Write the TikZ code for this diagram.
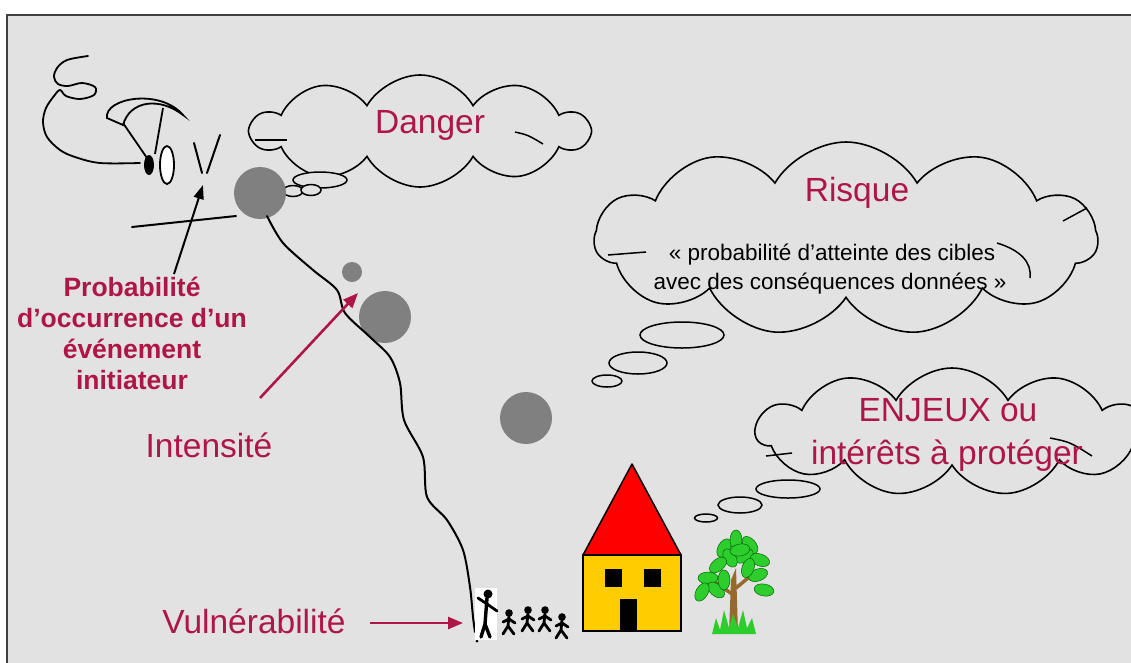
\documentclass[tikz,border=0pt]{standalone}
\usepackage{fontspec}
\setmainfont{Liberation Sans}
\usetikzlibrary{shapes.symbols,arrows.meta}

\definecolor{paper}{RGB}{226,226,226}
\definecolor{risk}{RGB}{175,22,72}
\definecolor{ball}{RGB}{128,128,128}
\definecolor{roof}{RGB}{255,0,0}
\definecolor{wall}{RGB}{255,204,0}
\definecolor{leaf}{RGB}{45,205,45}
\definecolor{trunk}{RGB}{150,105,45}

\tikzset{
	thought/.style={cloud,draw,line width=1.6pt,fill=paper,cloud puffs=#1,cloud puff arc=120,cloud ignores aspect,inner sep=0pt},
	bubble/.style={draw,line width=1.5pt,fill=paper},
	bigtext/.style={text=risk,font=\fontsize{33.5}{38}\selectfont},
	quotetext/.style={font=\fontsize{22.5}{26}\selectfont},
	probtext/.style={text=risk,align=center,font=\fontsize{26.5}{31}\selectfont\bfseries},
	redarrow/.style={draw=risk,line width=2.6pt,-{Triangle[length=15pt,width=12pt]}},
	blackline/.style={line width=2pt,line join=round,line cap=round},
	kid/.style={line width=2.8pt,line cap=round},
}

\begin{document}
\begin{tikzpicture}[x=1pt,y=-1pt]
	\useasboundingbox (0,0) rectangle (1131,662);
	\fill[white] (0,0) rectangle (1131,662);
	\filldraw[fill=paper,draw=black!75,line width=1.5pt] (7,15) rectangle (1145,675);

	% the three thought clouds
	\node[thought=10,minimum width=336pt,minimum height=112pt] (dangercloud) at (420,131) {};
	\node[thought=11,minimum width=503pt,minimum height=194pt] (risquecloud) at (846,239) {};
	\node[thought=11,minimum width=392pt,minimum height=128pt] (enjeuxcloud) at (952,432) {};

	% little inner strokes
	\draw[line width=1.5pt] (255,140) -- (287,140);
	\draw[line width=1.5pt] (515,132) .. controls (528,135) .. (543,144);
	\draw[line width=1.5pt] (608,255) -- (646,252);
	\draw[line width=1.5pt] (997,243) .. controls (1020,250) and (1032,262) .. (1030,278);
	\draw[line width=1.5pt] (1063,221) -- (1087,208);
	\draw[line width=1.5pt] (766,456) -- (792,453);
	\draw[line width=1.5pt] (1050,438) .. controls (1070,442) .. (1092,456);

	% bubbles
	\draw[bubble] (320,180) ellipse (27pt and 8pt);
	\draw[bubble] (293,191) ellipse (10pt and 5.5pt);
	\draw[bubble] (311,190) ellipse (10pt and 5.5pt);
	\draw[bubble] (682,335) ellipse (42pt and 13pt);
	\draw[bubble] (638,363) ellipse (29pt and 11pt);
	\draw[bubble] (607,381) ellipse (15pt and 6pt);
	\draw[bubble] (788,489) ellipse (32pt and 9pt);
	\draw[bubble] (740,505) ellipse (22pt and 8pt);
	\draw[bubble] (706,518) ellipse (11.5pt and 4pt);

	% texts in the clouds
	\node[bigtext] (danger) at (430,125) {Danger};
	\node[bigtext] (risque) at (857,193) {Risque};
	\node[quotetext] (quote1) at (832,255) {« probabilité d’atteinte des cibles};
	\node[quotetext] (quote2) at (830,284) {avec des conséquences données »};
	\node[bigtext] (enjeux) at (948,410) {ENJEUX ou};
	\node[bigtext] (proteger) at (947,456) {intérêts à protéger};

	% falling blocks
	\fill[ball] (260,193) circle (26pt);
	\fill[ball] (352,272) circle (10pt);
	\fill[ball] (385,317) circle (26pt);
	\fill[ball] (526,418) circle (26pt);

	% slope and ground
	\draw[blackline] (132,227) -- (236,216);
	\draw[blackline] plot[smooth,tension=0.5] coordinates {(267,216) (283,243) (313,270) (337,290) (345,313) (370,337) (390,357) (400,383) (404,420) (423,457) (427,497) (447,520) (463,550) (470,587) (473,617) (475,632)};
	\fill (477,641) circle (1.5pt);

	% paraglider
	\draw[blackline,line width=1.8pt] plot[smooth,tension=0.55] coordinates {(88,56) (67,60) (57,68) (54,77) (58,84) (68,86) (82,83) (95,87) (94,95) (80,99) (66,96) (60,90) (54,96) (46,108) (43,122) (47,137) (60,150) (75,157) (100,163) (140,163)};
	\filldraw[fill=paper,line width=1.8pt] (107,118) .. controls (104,98) and (160,88) .. (183,115)
		.. controls (160,97) and (130,100) .. (123,125) -- cycle;
	\draw[line width=1.8pt] (123,123) -- (147,158);
	\draw[line width=1.8pt] (163,108) -- (155,154);
	\fill (149,165) ellipse (5pt and 10pt);
	\filldraw[fill=white,line width=1.8pt] (167,165) ellipse (7pt and 19pt);
	\draw[blackline] (194,143) -- (202,173);
	\draw[blackline] (220,135) -- (207,173);

	% labels on the left
	\node[probtext] (proba) at (132,333) {Probabilité\\d’occurrence d’un\\événement\\initiateur};
	\node[bigtext] (intens) at (209,445) {Intensité};
	\node[bigtext] (vuln) at (254,621) {Vulnérabilité};

	\coordinate (probatail) at (174,274);
	\coordinate (probatip) at (203,185);
	\coordinate (intenstail) at (260,398);
	\coordinate (intenstip) at (358,293);
	\coordinate (vulntail) at (370,623);
	\coordinate (vulntip) at (463,623);

	\draw[line width=2pt,-{Triangle[length=14pt,width=10pt]}] (probatail) -- (probatip);
	\draw[redarrow] (intenstail) -- (intenstip);
	\draw[redarrow] (vulntail) -- (vulntip);

	% people at the foot of the slope
	\fill[white] (475,588) rectangle (497,640);
	\fill (488,594) circle (4.5pt);
	\draw[kid,line width=3.4pt] (487,598) -- (485,624) -- (481,637);
	\draw[kid,line width=3.4pt] (485,624) -- (490,637);
	\draw[kid] (478,598) -- (487,604) -- (497,611);
	\foreach \px/\py in {509/613, 528/610, 545/610, 562/617} {
		\fill (\px,\py) circle (3.8pt);
		\draw[kid] (\px,\py+3) -- (\px-1,\py+13) -- (\px-6,\py+21);
		\draw[kid] (\px-1,\py+13) -- (\px+5,\py+21);
		\draw[kid] (\px-6,\py+9) -- (\px,\py+6) -- (\px+6,\py+10);
	}

	% house
	\filldraw[fill=roof,line width=1.5pt,line join=round] (583,555) -- (632,464) -- (681,555) -- cycle;
	\filldraw[fill=wall,line width=1.5pt] (583,555) rectangle (681,631);
	\fill (605,569) rectangle (622,587);
	\fill (644,569) rectangle (661,587);
	\fill (620,599) rectangle (637,631);

	% tree
	\fill[trunk] (729,633) -- (731,580) -- (736,568) -- (738,633) -- cycle;
	\draw[trunk,line width=3.5pt,line cap=round] (732,594) -- (712,580);
	\draw[trunk,line width=3.5pt,line cap=round] (736,588) -- (754,573);
	\foreach \lx/\ly/\la in {724/548/60, 736/540/90, 750/545/-50, 744/556/30, 730/558/-60,
		760/560/-20, 758/575/20, 748/568/70, 718/565/40, 708/578/0, 716/590/-40,
		702/592/60, 724/580/90, 764/590/-10, 740/550/10} {
		\filldraw[fill=leaf,draw=green!40!black,line width=0.5pt,rotate around={\la:(\lx,\ly)}] (\lx,\ly) ellipse (10pt and 6pt);
	}
	\fill[leaf] (712,634) -- (716,618) -- (720,630) -- (724,610) -- (729,628) -- (733,614)
		-- (738,628) -- (743,610) -- (747,628) -- (752,618) -- (756,634) -- cycle;
\end{tikzpicture}
\end{document}
